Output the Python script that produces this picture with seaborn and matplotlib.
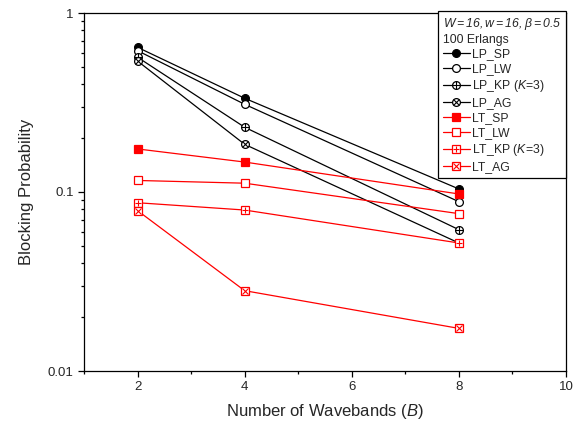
import numpy as np
import pandas as pd
import matplotlib
matplotlib.use("Agg")
import matplotlib.pyplot as plt
import seaborn as sns
from matplotlib.lines import Line2D
from matplotlib.ticker import LogLocator, FixedLocator, NullFormatter

# ---- data ----
B = [2, 4, 8]
LP_SP = [0.643, 0.334, 0.104]
LP_LW = [0.616, 0.309, 0.0883]
LP_KP = [0.566, 0.230, 0.0616]
LP_AG = [0.539, 0.1846, 0.0519]
LT_SP = [0.174, 0.147, 0.0975]
LT_LW = [0.116, 0.112, 0.0757]
LT_KP = [0.0871, 0.0793, 0.0519]
LT_AG = [0.0787, 0.0281, 0.0173]

series_names = ["LP_SP", "LP_LW", "LP_KP (K=3)", "LP_AG",
                "LT_SP", "LT_LW", "LT_KP (K=3)", "LT_AG"]
series_vals = [LP_SP, LP_LW, LP_KP, LP_AG, LT_SP, LT_LW, LT_KP, LT_AG]

sns.set_style("ticks")
plt.rcParams["font.family"] = ["Liberation Sans", "DejaVu Sans"]
plt.rcParams["mathtext.fontset"] = "custom"
plt.rcParams["mathtext.it"] = "Liberation Sans:italic"
plt.rcParams["mathtext.rm"] = "Liberation Sans:italic"

fig = plt.figure(figsize=(5.8, 4.25), dpi=100)
ax = fig.add_axes([84/580, 1-371/425, (566-84)/580, (371-13)/425])

RED = "#FF0000"
# (color, base marker, face, overlay marker)
styles = [
    ("black", "o", "black", None),
    ("black", "o", "white", None),
    ("black", "o", "white", "+"),
    ("black", "o", "white", "x"),
    (RED, "s", RED, None),
    (RED, "s", "white", None),
    (RED, "s", "white", "+"),
    (RED, "s", "white", "x"),
]

rows = []
for name, vals in zip(series_names, series_vals):
    for b, v in zip(B, vals):
        rows.append({"B": b, "P": v, "series": name})
df = pd.DataFrame(rows)

handles = []
ms = 5.6
for i, (name, (col, mk, fc, ov)) in enumerate(zip(series_names, styles)):
    sub = df[df["series"] == name]
    m = ms if mk == "o" else ms * 0.92
    sns.lineplot(data=sub, x="B", y="P", ax=ax, color=col, lw=0.9,
                 marker=mk, markersize=m, markerfacecolor=fc,
                 markeredgecolor=col, markeredgewidth=0.9, zorder=2 + i)
    h = Line2D([], [], color=col, lw=0.9, marker=mk, markersize=m,
               markerfacecolor=fc, markeredgecolor=col, markeredgewidth=0.9)
    if ov is not None:
        osz = m * (0.95 if ov == "+" else 0.7)
        sns.lineplot(data=sub, x="B", y="P", ax=ax, color=col, lw=0,
                     marker=ov, markersize=osz, markeredgecolor=col,
                     markeredgewidth=0.8, zorder=2.5 + i)
        h2 = Line2D([], [], lw=0, color=col, marker=ov, markersize=osz,
                    markeredgecolor=col, markeredgewidth=0.8)
        handles.append((h, h2))
    else:
        handles.append(h)

ax.set_yscale("log")
ax.set_ylim(0.01, 1)
ax.set_xlim(1, 10)
ax.xaxis.set_major_locator(FixedLocator([2, 4, 6, 8, 10]))
ax.xaxis.set_minor_locator(FixedLocator([1, 3, 5, 7, 9]))
ax.yaxis.set_major_locator(FixedLocator([0.01, 0.1, 1]))
ax.set_yticklabels(["0.01", "0.1", "1"])
ax.yaxis.set_minor_locator(LogLocator(base=10, subs=np.arange(2, 10)))
ax.yaxis.set_minor_formatter(NullFormatter())

ax.tick_params(axis="both", which="major", direction="out", length=4.5,
               width=0.9, labelsize=9.5, color="black", pad=3)
ax.tick_params(axis="both", which="minor", direction="out", length=2.5,
               width=0.9, color="black")
for s in ax.spines.values():
    s.set_visible(True)
    s.set_linewidth(0.9)
    s.set_color("black")

ax.set_xlabel("Number of Wavebands (" + r"$B$" + ")", fontsize=12, labelpad=6)
ax.set_ylabel("Blocking Probability", fontsize=12, labelpad=10)

labels = ["LP_SP", "LP_LW", "LP_KP (" + r"$K$" + "=3)", "LP_AG",
          "LT_SP", "LT_LW", "LT_KP (" + r"$K$" + "=3)", "LT_AG"]
leg = ax.legend(handles, labels, loc="upper right",
                bbox_to_anchor=(1.0, 1.006), borderaxespad=0,
                title=r"$W{=}16,w{=}16,\beta{=}0.5$" + "\n100 Erlangs",
                title_fontsize=8.8, fontsize=8.8, alignment="left",
                frameon=True, fancybox=False, edgecolor="black",
                framealpha=1, labelspacing=0.24, handlelength=2.2,
                handletextpad=0.2, borderpad=0.4, numpoints=1)
leg.get_frame().set_linewidth(0.9)
leg.set_zorder(20)

fig.savefig("out.png", dpi=100)
